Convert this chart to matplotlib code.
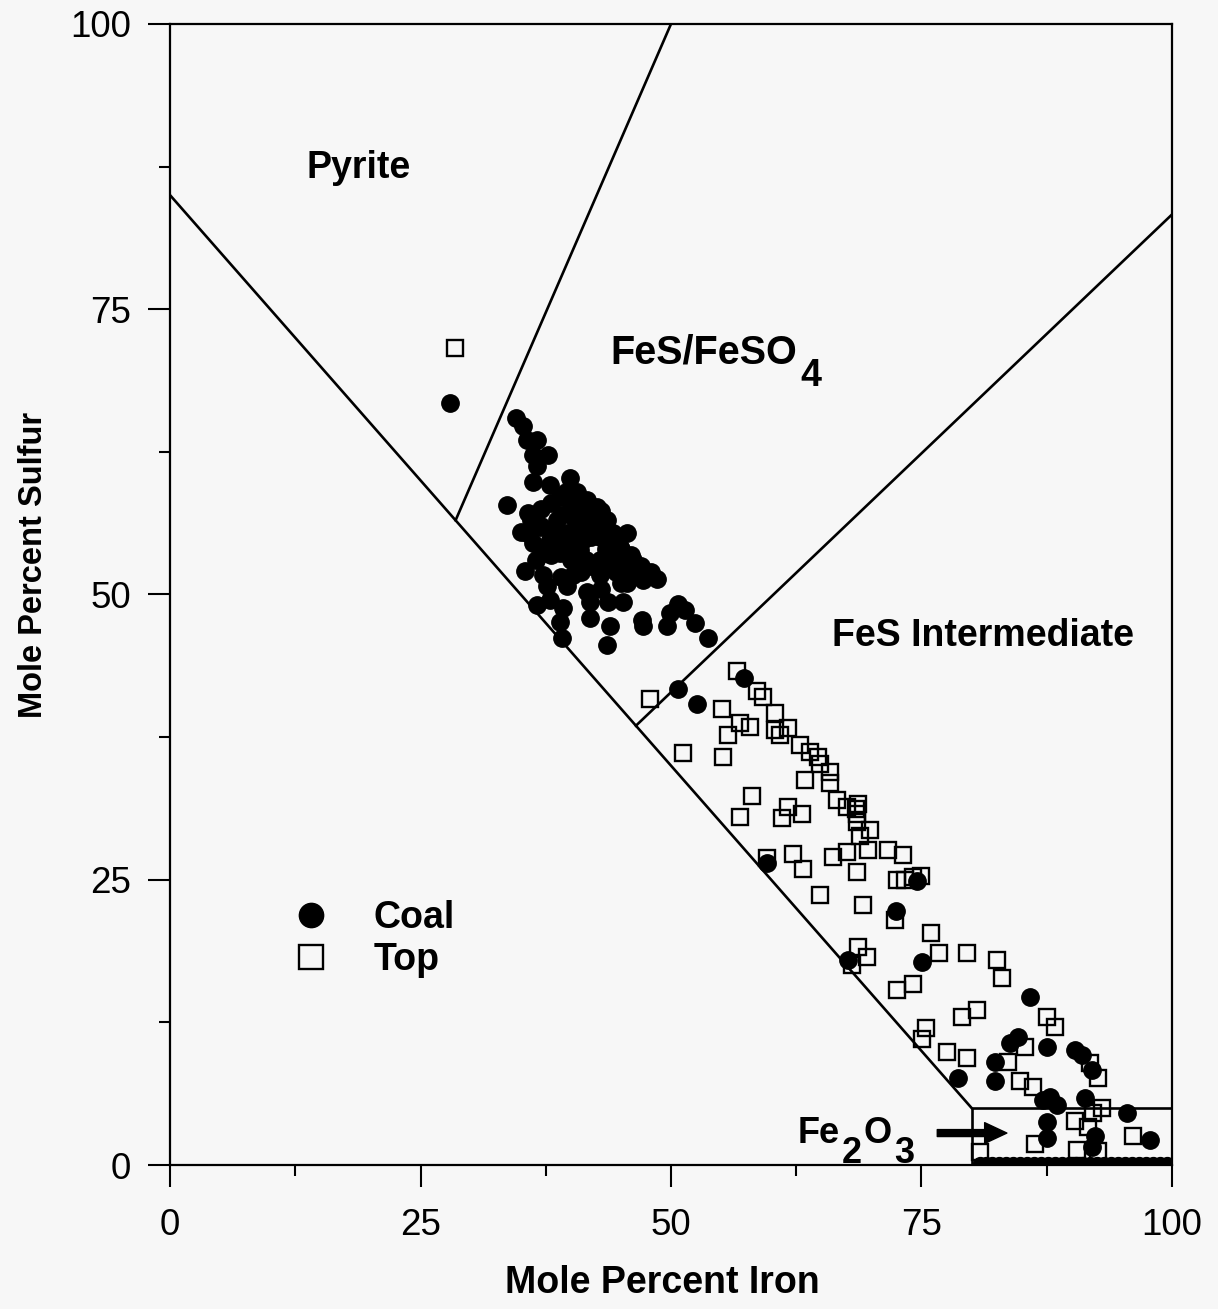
import matplotlib
matplotlib.use("Agg")
import matplotlib.pyplot as plt
from matplotlib.ticker import MultipleLocator

plt.rcParams["font.family"] = ["Liberation Sans", "DejaVu Sans"]

# Coal samples (mole % iron, mole % sulfur)
coal_x = [27.9,
          34.5, 35.2, 35.6, 36.6, 36.2, 37.7, 36.6, 36.2, 37.9, 39.9, 33.6, 35.7, 38.9, 40.6, 41.6, 42.6,
          35.6, 36.9, 38.6, 40.2, 43.6, 36.2, 37.9, 39.6, 41.2, 42.9, 44.2, 37.2, 38.9, 40.9, 42.9, 44.2,
          35.4, 37.2, 40.2, 42.9, 37.6, 39.6, 41.6, 36.6, 37.9, 39.2, 41.9, 43.7, 38.9, 41.9, 43.9, 39.1, 43.6,
          48.6, 45.6, 47.2, 46.2, 46.9, 44.9, 45.6, 45.2, 47.1, 47.2, 49.6, 50.7, 49.9, 51.4, 52.4, 53.7,
          39.0, 40.0, 41.0, 42.0, 38.0, 39.0, 40.0, 41.5, 43.5, 45.0, 46.0, 47.8, 36.5, 43.0, 45.0,
          37.0, 38.0, 39.5, 41.0, 42.0, 43.0, 44.0, 45.0, 46.0, 47.0, 48.0, 37.0, 38.5, 40.5, 42.0,
          43.5, 44.5, 36.0, 35.0, 38.0, 40.0, 41.0, 39.0, 42.0, 45.5, 43.0, 40.5,
          50.7, 52.6, 57.3, 59.6, 72.5, 74.6, 67.7, 75.1, 85.8, 83.8, 84.6, 87.5, 90.3, 91.0, 92.0,
          82.3, 82.3, 78.6, 87.8, 87.1, 88.5, 91.3, 95.5, 87.5, 87.5, 92.3, 92.0, 97.8]
coal_y = [66.8,
          65.5, 64.8, 63.5, 63.5, 62.2, 62.2, 61.3, 59.9, 59.6, 60.2, 57.8, 57.1, 58.5, 59.0, 58.3, 57.7,
          55.4, 55.9, 56.5, 56.8, 56.5, 54.5, 54.8, 55.4, 54.8, 55.0, 55.4, 53.6, 53.6, 53.9, 53.0, 52.4,
          52.1, 51.7, 51.7, 51.7, 50.7, 50.7, 50.2, 49.1, 49.5, 48.8, 49.3, 49.3, 47.6, 47.9, 47.2, 46.2, 45.6,
          51.4, 51.0, 51.3, 53.0, 52.4, 54.2, 55.4, 49.3, 47.8, 47.2, 47.2, 49.2, 48.4, 48.6, 47.5, 46.2,
          57.0, 57.8, 56.0, 56.2, 55.5, 54.5, 54.3, 53.0, 54.0, 53.0, 52.0, 51.9, 53.0, 50.5, 51.0,
          57.5, 58.0, 59.0, 57.0, 57.0, 56.0, 54.5, 54.0, 53.5, 52.5, 52.0, 56.0, 55.0, 55.5, 55.0,
          53.0, 52.0, 56.5, 55.5, 53.5, 53.0, 52.0, 51.5, 52.5, 52.5, 57.3, 58.0,
          41.7, 40.4, 42.7, 26.5, 22.3, 24.9, 18.0, 17.8, 14.7, 10.7, 11.2, 10.3, 10.1, 9.6, 8.3,
          9.0, 7.4, 7.6, 6.0, 5.7, 5.3, 5.9, 4.6, 3.8, 2.4, 2.5, 1.6, 2.2]

# Coal samples sitting on (just above) the zero-sulfur line
coal_zero_x = [80.8, 81.4, 82.0, 82.7, 83.4, 84.1, 84.8, 85.5, 86.2, 86.9, 87.6, 88.3, 89.0,
               89.7, 90.4, 91.1, 91.8, 92.5, 93.2, 93.9, 94.6, 95.3, 96.0, 96.7, 97.4, 98.1,
               98.8, 99.5]
coal_zero_y = [0.1] * len(coal_zero_x)

# Top samples
top_x = [28.4, 47.9, 56.6, 58.6, 59.2, 55.1, 56.9, 57.9, 55.7, 60.4, 60.4, 61.7, 60.9, 62.9, 63.9,
         64.7, 64.9, 65.9, 65.9, 63.4, 51.2, 55.2, 66.6, 67.6, 68.7, 68.6, 68.6, 68.5, 69.9, 68.9,
         58.1, 56.9, 61.7, 63.1, 61.1, 59.6, 62.2, 63.2, 66.2, 67.6, 69.7, 71.7, 73.2, 68.6, 72.6,
         73.4, 74.2, 75.0, 64.9, 69.2, 72.4, 76.0, 76.7, 79.5, 82.5, 83.0, 68.7, 69.6, 68.1, 72.6,
         74.2, 79.0, 80.5, 87.5, 88.3, 75.5, 75.1, 85.3, 91.8, 92.6, 77.5, 79.5, 83.6, 84.8, 86.1,
         93.0, 92.1, 90.3, 91.6, 86.3, 90.5, 92.6, 96.1, 80.8]
top_y = [71.6, 40.8, 43.3, 41.5, 41.0, 40.0, 38.7, 38.4, 37.7, 39.6, 38.1, 38.3, 37.7, 36.8, 36.2,
         35.8, 35.1, 34.4, 33.5, 33.7, 36.1, 35.8, 32.0, 31.4, 31.6, 30.8, 30.1, 31.2, 29.4, 28.8,
         32.3, 30.5, 31.4, 30.8, 30.4, 26.9, 27.3, 25.9, 27.0, 27.4, 27.6, 27.6, 27.2, 25.7, 25.0,
         25.0, 25.2, 25.3, 23.7, 22.8, 21.5, 20.3, 18.6, 18.6, 18.0, 16.4, 19.1, 18.2, 17.5, 15.3,
         15.9, 13.0, 13.6, 13.0, 12.1, 12.0, 11.0, 10.3, 8.9, 7.6, 9.9, 9.4, 9.0, 7.4, 6.8,
         5.0, 4.6, 3.9, 3.3, 1.8, 1.3, 1.2, 2.5, 1.1]

# Field boundaries
base_x, base_y = [0, 80], [85, 5]
pyrite_x, pyrite_y = [28.5, 50.0], [56.5, 100]
fes_x, fes_y = [46.5, 100], [38.5, 83.3]
fe2o3_x, fe2o3_y = [80, 80, 100], [0, 5, 5]

bg = "#f7f7f7"
fig = plt.figure(figsize=(12.18, 13.09), dpi=100, facecolor=bg)
ax = fig.add_axes([0.1396, 0.1100, 0.8226, 0.8717], facecolor=bg)

for xs, ys in [(base_x, base_y), (pyrite_x, pyrite_y), (fes_x, fes_y), (fe2o3_x, fe2o3_y)]:
    ax.plot(xs, ys, color="black", lw=1.9, zorder=2)

ax.plot(top_x, top_y, ls="none", marker="s", ms=12, mfc="none", mec="black", mew=1.7,
        label="Top", zorder=3)
ax.plot(coal_x, coal_y, ls="none", marker="o", ms=12.5, mfc="black", mec="black",
        label="Coal", zorder=4)
ax.plot(coal_zero_x, coal_zero_y, ls="none", marker="o", ms=10, mfc="black", mec="black",
        zorder=4)

ax.set_xlim(0, 100)
ax.set_ylim(0, 100)
ax.xaxis.set_major_locator(MultipleLocator(25))
ax.xaxis.set_minor_locator(MultipleLocator(12.5))
ax.yaxis.set_major_locator(MultipleLocator(25))
ax.yaxis.set_minor_locator(MultipleLocator(12.5))
ax.tick_params(which="major", direction="out", length=16, width=1.5, labelsize=26.5)
ax.tick_params(which="minor", direction="out", length=8, width=1.5)
ax.tick_params(axis="y", which="major", pad=12)
ax.tick_params(axis="x", which="major", pad=15)
for sp in ax.spines.values():
    sp.set_linewidth(1.6)

ax.set_xlabel("Mole Percent Iron", fontsize=27, fontweight="bold")
ax.set_ylabel("Mole Percent Sulfur", fontsize=23.5, fontweight="bold")
ax.xaxis.set_label_coords(0.491, -0.088)
ax.yaxis.set_label_coords(-0.121, 0.526)

lab = dict(fontsize=27, fontweight="bold", color="black")
ax.text(18.8, 87.4, "Pyrite", ha="center", va="center", **lab)
t = ax.text(43.9, 71.2, "FeS/FeSO", ha="left", va="center", fontsize=28.5,
            fontweight="bold", color="black")
ax.annotate("4", xy=(1, 0), xycoords=t, xytext=(3, -3), textcoords="offset points",
            ha="left", va="center", **lab)
ax.text(81.1, 46.4, "FeS Intermediate", ha="center", va="center", **lab)

sub = dict(fontsize=26, fontweight="bold", color="black")
t1 = ax.text(62.6, 1.9, "Fe", ha="left", va="baseline", **sub)
t2 = ax.annotate("2", xy=(1, 0), xycoords=t1, xytext=(2, -14), textcoords="offset points",
                 ha="left", va="bottom", **sub)
t3 = ax.annotate("O", xy=(1, 0), xycoords=t2, xytext=(1, 14), textcoords="offset points",
                 ha="left", va="bottom", **sub)
ax.annotate("3", xy=(1, 0), xycoords=t3, xytext=(2, -14), textcoords="offset points",
            ha="left", va="bottom", **sub)
ax.annotate("", xy=(83.8, 2.8), xytext=(76.3, 2.8),
            arrowprops=dict(arrowstyle="simple,head_length=1.6,head_width=1.5,tail_width=0.5",
                            mutation_scale=10, fc="black", ec="black"))

handles, labels = ax.get_legend_handles_labels()
leg = ax.legend(handles[::-1], labels[::-1], loc="upper left", bbox_to_anchor=(0.100, 0.249),
                frameon=False, borderpad=0, handlelength=1.2, handletextpad=1.05,
                labelspacing=0.18, markerscale=1.4, prop=dict(size=27, weight="bold"))

fig.savefig("out.png", dpi=100, facecolor=bg)
